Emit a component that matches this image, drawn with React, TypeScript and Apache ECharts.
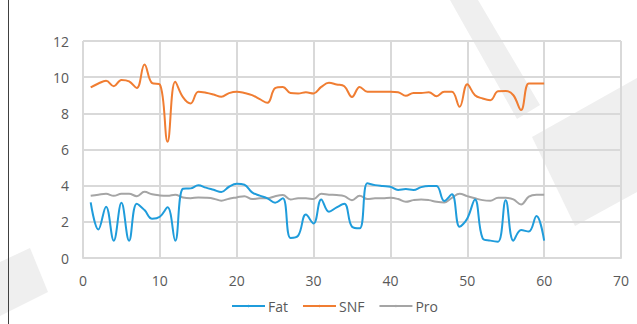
import React, { useEffect, useRef } from "react";
import * as echarts from "echarts";

const xValues = Array.from({ length: 60 }, (_, i) => i + 1);

const fat = [
  3.08, 1.58, 2.84, 0.96, 3.05, 0.96, 3.0, 2.65, 2.17, 2.28,
  2.8, 0.96, 3.83, 3.85, 4.02, 3.89, 3.77, 3.65, 3.94, 4.1,
  4.05, 3.63, 3.45, 3.3, 3.06, 3.31, 1.11, 1.24, 2.4, 1.91,
  3.24, 2.56, 2.8, 3.0, 1.73, 1.64, 4.13, 4.03, 3.98, 3.94,
  3.76, 3.81, 3.76, 3.92, 3.98, 3.98, 3.15, 3.52, 1.73, 2.19,
  3.24, 1.09, 0.96, 0.9, 3.2, 0.96, 1.55, 1.46, 2.32, 0.96,
];

const snf = [
  9.43, 9.65, 9.8, 9.5, 9.85, 9.77, 9.4, 10.7, 9.67, 9.6,
  6.43, 9.75, 8.9, 8.55, 9.2, 9.14, 9.04, 8.92, 9.12, 9.2,
  9.13, 9.01, 8.78, 8.58, 9.39, 9.46, 9.12, 9.1, 9.16, 9.1,
  9.46, 9.69, 9.6, 9.5, 8.91, 9.46, 9.19, 9.2, 9.19, 9.2,
  9.17, 8.97, 9.13, 9.12, 9.17, 8.95, 9.19, 9.19, 8.36, 9.61,
  9.0, 8.82, 8.73, 9.22, 9.24, 9.0, 8.18, 9.65, 9.65, 9.65,
];

const pro = [
  3.44, 3.5, 3.55, 3.44, 3.55, 3.55, 3.42, 3.66, 3.52, 3.46,
  3.44, 3.5, 3.35, 3.31, 3.35, 3.33, 3.28, 3.17, 3.28, 3.35,
  3.42, 3.26, 3.3, 3.3, 3.42, 3.48, 3.24, 3.3, 3.3, 3.26,
  3.55, 3.5, 3.48, 3.42, 3.2, 3.44, 3.26, 3.3, 3.3, 3.33,
  3.26, 3.11, 3.2, 3.24, 3.2, 3.11, 3.07, 3.33, 3.55, 3.42,
  3.3, 3.2, 3.17, 3.33, 3.33, 3.24, 2.96, 3.39, 3.5, 3.5,
];

const seriesNames = ["Fat", "SNF", "Pro"];
const seriesColors = ["#1f9cdb", "#f07d32", "#a5a5a5"];

export default function App() {
  const ref = useRef<HTMLDivElement>(null);

  useEffect(() => {
    document.body.style.margin = "0";
    if (!ref.current) return;
    const chart = echarts.init(ref.current, null, { renderer: "svg" });
    const pairs = (arr: number[]) => arr.map((v, i) => [xValues[i], v]);
    const font = "'Open Sans', sans-serif";
    chart.setOption({
      animation: false,
      backgroundColor: "#ffffff",
      textStyle: { fontFamily: font },
      grid: { left: 83, right: 16, top: 41, bottom: 66, containLabel: false },
      xAxis: {
        type: "value",
        min: 0,
        max: 70,
        interval: 10,
        axisLine: { show: true, lineStyle: { color: "#d9d9d9", width: 2 } },
        axisTick: { show: false },
        axisLabel: { color: "#595959", fontSize: 14, fontFamily: font, margin: 15 },
        splitLine: { show: true, lineStyle: { color: "#d9d9d9", width: 2 } },
      },
      yAxis: {
        type: "value",
        min: 0,
        max: 12,
        interval: 2,
        axisLine: { show: false },
        axisTick: { show: false },
        axisLabel: { color: "#595959", fontSize: 14, fontFamily: font, margin: 14 },
        splitLine: { show: true, lineStyle: { color: "#d9d9d9", width: 2 } },
      },
      legend: {
        bottom: 6,
        left: 226,
        itemWidth: 33,
        itemHeight: 3,
        itemGap: 14,
        textStyle: { color: "#595959", fontSize: 14, fontFamily: font, padding: [0, 0, 0, -2] },
        data: seriesNames,
      },
      graphic: [
        {
          type: "polygon",
          z: -10,
          shape: { points: [[450, 0], [478, 0], [540, 105], [517, 119]] },
          style: { fill: "#efefef" },
        },
        {
          type: "polygon",
          z: -10,
          shape: { points: [[532, 137], [637, 78], [637, 192], [575, 226]] },
          style: { fill: "#efefef" },
        },
        {
          type: "polygon",
          z: -10,
          shape: { points: [[0, 262], [30, 248], [48, 292], [0, 316]] },
          style: { fill: "#efefef" },
        },
        {
          type: "line",
          z: 10,
          shape: { x1: 8.5, y1: 0, x2: 8.5, y2: 324 },
          style: { stroke: "#404040", lineWidth: 1 },
        },
      ],
      series: [fat, snf, pro].map((arr, i) => ({
        name: seriesNames[i],
        type: "line",
        data: pairs(arr),
        smooth: 0.4,
        symbol: "none",
        lineStyle: { color: seriesColors[i], width: 2 },
        itemStyle: { color: seriesColors[i] },
        z: 3 - i,
      })),
    });
    return () => chart.dispose();
  }, []);

  return <div ref={ref} style={{ width: 637, height: 324 }} />;
}
